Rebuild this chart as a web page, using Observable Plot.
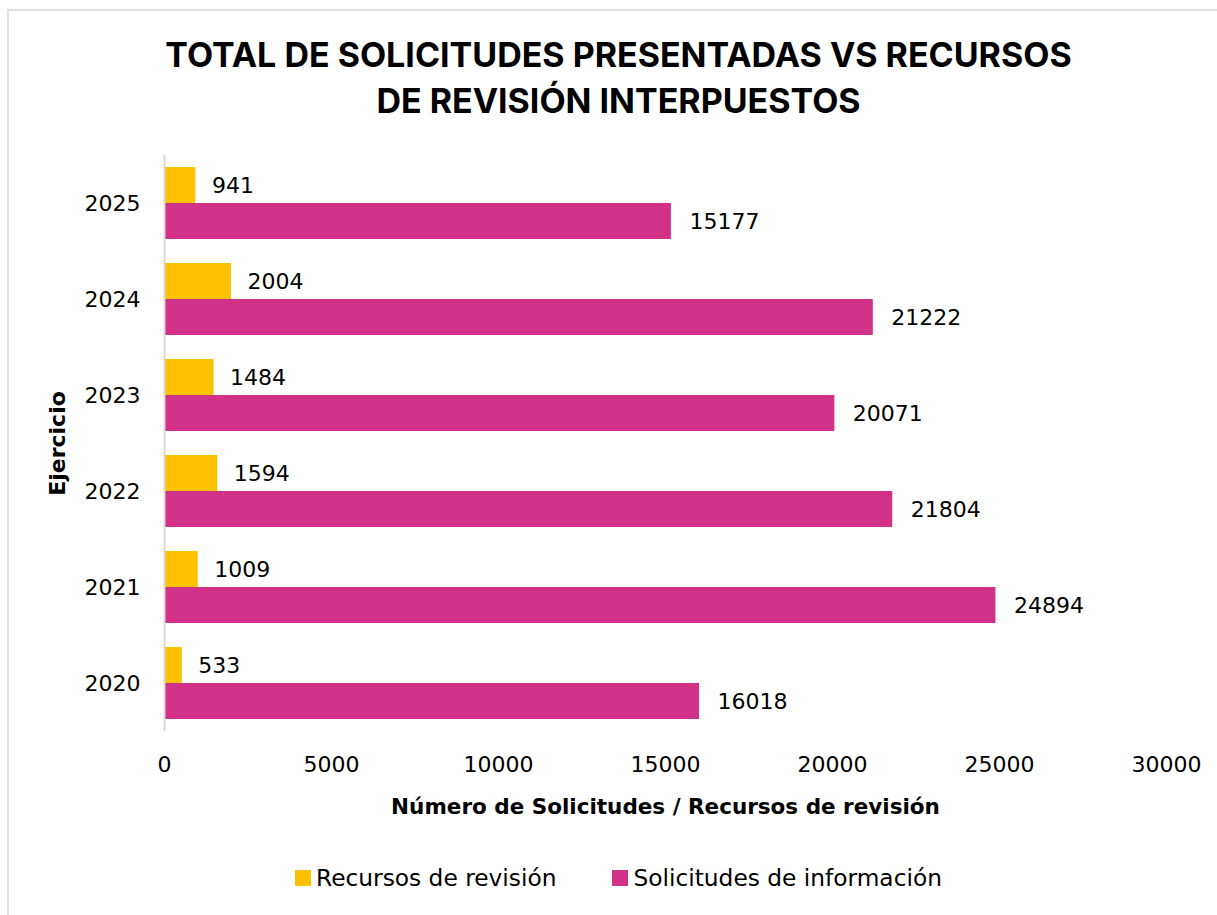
<!DOCTYPE html>
<html>
<head>
<meta charset="utf-8">
<script src="https://cdn.jsdelivr.net/npm/d3@7"></script>
<script src="https://cdn.jsdelivr.net/npm/@observablehq/plot@0.6"></script>
<style>
  html, body { margin: 0; padding: 0; background: #fff; }
  #frame {
    position: absolute; left: 7px; top: 9px; width: 1230px; height: 930px;
    border: 2px solid #dde1e7; box-sizing: border-box;
  }
  #title {
    position: absolute; left: 0; top: 32px; width: 1237px; text-align: center;
    font-family: Inter, "Open Sans", sans-serif; font-weight: 700;
    font-size: 34px; line-height: 46px; color: #000;
  }
  #chart { position: absolute; left: 0; top: 130px; }
  #legend {
    position: absolute; left: 0; top: 864px; width: 1237px; display: flex;
    justify-content: center; gap: 56px;
    font-family: "DejaVu Sans", sans-serif; font-size: 23.3px; color: #000;
  }
  #legend span.item { display: inline-flex; align-items: center; }
  #legend span.sw { display: inline-block; width: 16px; height: 16px; margin-right: 5px; }
</style>
</head>
<body>
<div id="frame"></div>
<div id="title">TOTAL DE SOLICITUDES PRESENTADAS VS RECURSOS<br>DE REVISIÓN INTERPUESTOS</div>
<div id="chart"></div>
<div id="legend"></div>
<script>
const years = ["2025", "2024", "2023", "2022", "2021", "2020"];
const recursos = [941, 2004, 1484, 1594, 1009, 533];
const solicitudes = [15177, 21222, 20071, 21804, 24894, 16018];
const seriesNames = ["Recursos de revisión", "Solicitudes de información"];
const seriesColors = ["#FFC000", "#D13187"];
const xTicks = [0, 5000, 10000, 15000, 20000, 25000, 30000];

const rowsR = years.map((y, i) => ({year: y, value: recursos[i], series: seriesNames[0]}));
const rowsS = years.map((y, i) => ({year: y, value: solicitudes[i], series: seriesNames[1]}));

const font = "'DejaVu Sans', sans-serif";
const half = 36;

const plot = Plot.plot({
  width: 1217,
  height: 701,
  marginLeft: 164,
  marginRight: 51,
  marginTop: 25,
  marginBottom: 100,
  style: {fontFamily: font, fontSize: "22px", color: "#000", background: "transparent"},
  x: {domain: [0, 30000], ticks: xTicks, tickFormat: d => String(d), tickSize: 0, tickPadding: 25,
      label: "Número de Solicitudes / Recursos de revisión", labelAnchor: "center", labelOffset: 82},
  y: {domain: years, paddingInner: 0.25, paddingOuter: 0.125, tickSize: 0, tickPadding: 24,
      label: "Ejercicio", labelAnchor: "center", labelOffset: 115},
  marks: [
    Plot.barX(rowsR, {y: "year", x: "value", fill: seriesColors[0], insetBottom: half, insetTop: 0}),
    Plot.barX(rowsS, {y: "year", x: "value", fill: seriesColors[1], insetTop: half, insetBottom: 0}),
    Plot.text(rowsR, {y: "year", x: "value", text: d => String(d.value), dy: -half/2, dx: 16, textAnchor: "start", fontSize: 22, fill: "#000"}),
    Plot.text(rowsS, {y: "year", x: "value", text: d => String(d.value), dy: half/2, dx: 18, textAnchor: "start", fontSize: 22, fill: "#000"}),
    Plot.ruleX([0], {stroke: "#d9d9d9", strokeWidth: 2})
  ]
});
document.getElementById("chart").appendChild(plot);

plot.querySelectorAll("g[aria-label='x-axis label'] text, g[aria-label='y-axis label'] text").forEach(t => {
  t.setAttribute("font-weight", "700");
  t.setAttribute("font-size", "21.5px");
  t.textContent = t.textContent.replace(/\s*[→↑←↓]\s*/g, "");
});
plot.querySelectorAll("g[aria-label='y-axis label'] text").forEach(t => t.setAttribute("font-size", "22px"));
plot.querySelectorAll("g[aria-label='y-axis tick label'] text, g[aria-label='x-axis tick label'] text").forEach(t => {
  t.setAttribute("font-size", "22px");
});

const legend = document.getElementById("legend");
seriesNames.forEach((name, i) => {
  const item = document.createElement("span");
  item.className = "item";
  const sw = document.createElement("span");
  sw.className = "sw";
  sw.style.background = seriesColors[i];
  item.appendChild(sw);
  item.appendChild(document.createTextNode(name));
  legend.appendChild(item);
});
</script>
</body>
</html>
